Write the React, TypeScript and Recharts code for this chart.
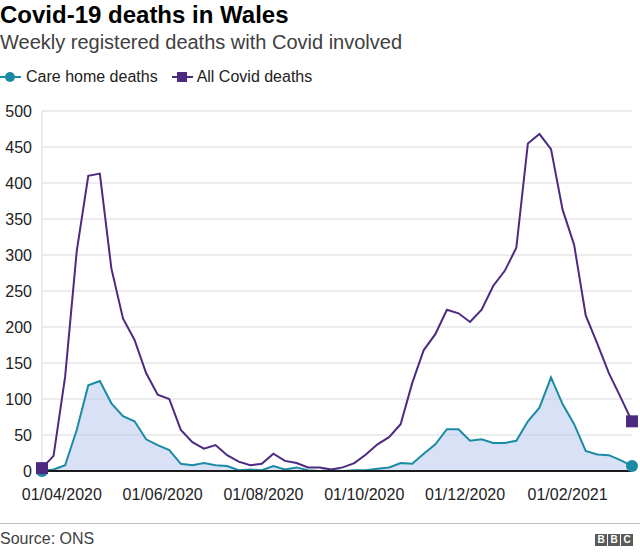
import React from 'react';
import { ComposedChart, Area, Line, XAxis, YAxis, CartesianGrid, Legend } from 'recharts';

const weekEnding = [
  '2020-03-20', '2020-03-27', '2020-04-03', '2020-04-10', '2020-04-17', '2020-04-24',
  '2020-05-01', '2020-05-08', '2020-05-15', '2020-05-22', '2020-05-29',
  '2020-06-05', '2020-06-12', '2020-06-19', '2020-06-26',
  '2020-07-03', '2020-07-10', '2020-07-17', '2020-07-24', '2020-07-31',
  '2020-08-07', '2020-08-14', '2020-08-21', '2020-08-28',
  '2020-09-04', '2020-09-11', '2020-09-18', '2020-09-25',
  '2020-10-02', '2020-10-09', '2020-10-16', '2020-10-23', '2020-10-30',
  '2020-11-06', '2020-11-13', '2020-11-20', '2020-11-27',
  '2020-12-04', '2020-12-11', '2020-12-18', '2020-12-25',
  '2021-01-01', '2021-01-08', '2021-01-15', '2021-01-22', '2021-01-29',
  '2021-02-05', '2021-02-12', '2021-02-19', '2021-02-26',
  '2021-03-05', '2021-03-12',
];

const careHomeDeaths = [
  0, 2, 8, 57, 119, 125, 94, 76, 69, 44, 36, 29, 10, 8, 11, 8, 7, 1, 2, 1,
  7, 2, 5, 1, 0, 1, 0, 1, 1, 3, 5, 11, 10, 24, 37, 58, 58, 42, 44, 39,
  39, 42, 69, 88, 130, 93, 65, 28, 23, 22, 15, 7,
];

const allCovidDeaths = [
  4, 21, 131, 305, 410, 413, 281, 212, 182, 136, 106, 100, 57, 40, 31, 36, 22, 13, 8, 10,
  24, 14, 11, 5, 5, 2, 5, 11, 23, 37, 47, 65, 122, 168, 190, 224, 219, 207, 224, 257,
  278, 310, 455, 468, 447, 363, 314, 216, 177, 136, 103, 69,
];

const yTicks = [0, 50, 100, 150, 200, 250, 300, 350, 400, 450, 500];
const xTickDates = ['2020-04-01', '2020-06-01', '2020-08-01', '2020-10-01', '2020-12-01', '2021-02-01'];

const seriesNames = { care: 'Care home deaths', all: 'All Covid deaths' };

const TEAL = '#1b8ba3';
const PURPLE = '#4b2a80';
const FONT = '"Liberation Sans", Arial, Helvetica, sans-serif';

const toTime = (s: string) => Date.UTC(+s.slice(0, 4), +s.slice(5, 7) - 1, +s.slice(8, 10));
const pad = (n: number) => (n < 10 ? '0' + n : '' + n);
const fmtDate = (t: number) => {
  const d = new Date(t);
  return `${pad(d.getUTCDate())}/${pad(d.getUTCMonth() + 1)}/${d.getUTCFullYear()}`;
};

const data = weekEnding.map((d, i) => ({
  t: toTime(d),
  care: careHomeDeaths[i],
  all: allCovidDeaths[i],
}));
const xTicks = xTickDates.map(toTime);
const lastIndex = data.length - 1;

const CareDot = (props: any) => {
  const { cx, cy, index } = props;
  if (index !== 0 && index !== lastIndex) return <g key={`c${index}`} />;
  return <circle key={`c${index}`} cx={cx} cy={cy} r={6} fill={TEAL} stroke="none" />;
};

const AllDot = (props: any) => {
  const { cx, cy, index } = props;
  if (index !== 0 && index !== lastIndex) return <g key={`a${index}`} />;
  return <rect key={`a${index}`} x={cx - 6} y={cy - 6} width={12} height={12} fill={PURPLE} stroke="none" />;
};

const LegendContent = () => (
  <div style={{ display: 'flex', alignItems: 'center', height: 24, fontFamily: FONT, fontSize: 16, color: '#222' }}>
    <svg width={22} height={14} style={{ display: 'block' }}>
      <line x1={0} y1={7} x2={21} y2={7} stroke={TEAL} strokeWidth={2} />
      <circle cx={10} cy={7} r={5} fill={TEAL} />
    </svg>
    <span style={{ marginLeft: 4 }}>{seriesNames.care}</span>
    <svg width={22} height={14} style={{ display: 'block', marginLeft: 13 }}>
      <line x1={1} y1={7} x2={22} y2={7} stroke={PURPLE} strokeWidth={2} />
      <rect x={6} y={2} width={10} height={10} fill={PURPLE} />
    </svg>
    <span style={{ marginLeft: 4 }}>{seriesNames.all}</span>
  </div>
);

export default function App() {
  return (
    <div style={{ position: 'absolute', left: 0, top: 0, width: 640, height: 552, background: '#fff', fontFamily: FONT, overflow: 'hidden' }}>
      <div style={{ position: 'absolute', left: 0, top: 3, fontSize: 24, lineHeight: '24px', fontWeight: 700, color: '#000', whiteSpace: 'nowrap' }}>
        Covid-19 deaths in Wales
      </div>
      <div style={{ position: 'absolute', left: 0, top: 32, fontSize: 20, lineHeight: '20px', color: '#404040', whiteSpace: 'nowrap' }}>
        Weekly registered deaths with Covid involved
      </div>
      <div style={{ position: 'absolute', left: 0, top: 0 }}>
        <ComposedChart width={640} height={552} data={data} margin={{ top: 87, right: 8, bottom: 51, left: 0 }}>
          <CartesianGrid horizontal vertical={false} stroke="#d9d9d9" strokeWidth={1} />
          <YAxis
            type="number"
            domain={[0, 500]}
            ticks={yTicks}
            width={42}
            tickSize={0}
            tickMargin={10}
            tickLine={false}
            axisLine={{ stroke: '#dadada', strokeWidth: 1 }}
            tick={{ fill: '#222', fontSize: 16, fontFamily: FONT }}
            interval={0}
          />
          <Area
            type="linear"
            dataKey="care"
            name={seriesNames.care}
            stroke={TEAL}
            strokeWidth={2}
            fill="#b9c9ef"
            fillOpacity={0.55}
            dot={CareDot}
            activeDot={false}
            isAnimationActive={false}
          />
          <XAxis
            type="number"
            dataKey="t"
            domain={[data[0].t, data[lastIndex].t]}
            ticks={xTicks}
            tickFormatter={fmtDate}
            height={30}
            tickSize={0}
            tickMargin={18}
            tickLine={false}
            axisLine={{ stroke: '#1a1a1a', strokeWidth: 2 }}
            tick={{ fill: '#222', fontSize: 16, fontFamily: FONT }}
            interval={0}
          />
          <Line
            type="linear"
            dataKey="all"
            name={seriesNames.all}
            stroke={PURPLE}
            strokeWidth={2}
            dot={AllDot}
            activeDot={false}
            isAnimationActive={false}
          />
          <Legend
            verticalAlign="top"
            align="left"
            content={<LegendContent />}
            wrapperStyle={{ top: 65, left: 0, width: 640, height: 24 }}
          />
        </ComposedChart>
      </div>
      <div style={{ position: 'absolute', left: 0, top: 523, width: 640, height: 0, borderTop: '1.5px solid #bcbcbc' }} />
      <div style={{ position: 'absolute', left: 0, top: 531, fontSize: 16, lineHeight: '16px', color: '#404040', whiteSpace: 'nowrap' }}>
        Source: ONS
      </div>
      <div style={{ position: 'absolute', left: 595, top: 534, display: 'flex' }}>
        {['B', 'B', 'C'].map((ch, i) => (
          <span
            key={i}
            style={{
              width: 12, height: 12, marginLeft: i === 0 ? 0 : 1, background: '#5a5a5a', color: '#fff',
              fontSize: 10, lineHeight: '12px', fontWeight: 700, textAlign: 'center', display: 'block',
            }}
          >
            {ch}
          </span>
        ))}
      </div>
    </div>
  );
}
